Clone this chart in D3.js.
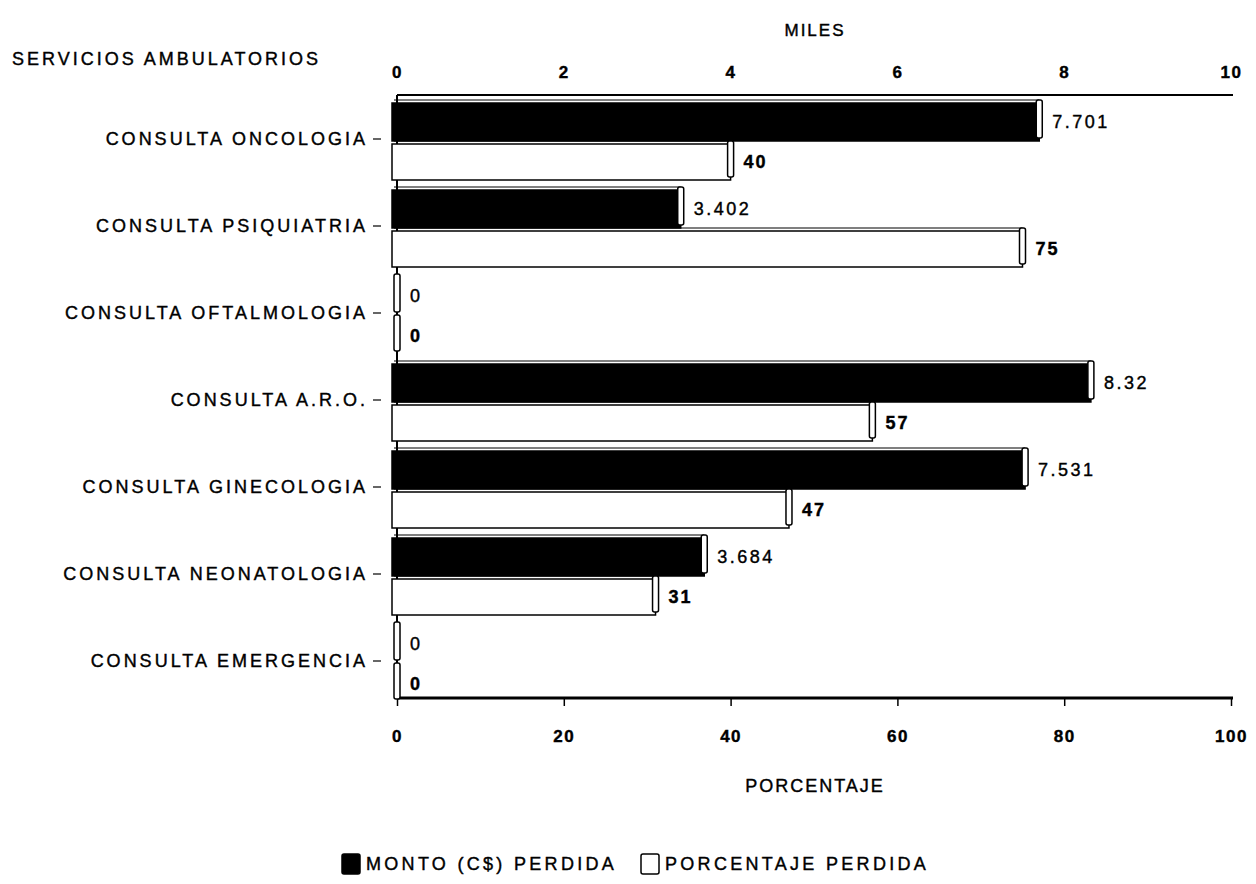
<!DOCTYPE html>
<html>
<head>
<meta charset="utf-8">
<script src="https://cdn.jsdelivr.net/npm/d3@7"></script>
<style>
  body { margin: 0; background: #fff; }
  svg text { font-family: "Liberation Sans", Arial, sans-serif; fill: #000; stroke: #000; stroke-width: 0.4px; }
</style>
</head>
<body>
<svg id="chart" width="1256" height="884"></svg>
<script>
// servicios ambulatorios
const categories = ["CONSULTA ONCOLOGIA", "CONSULTA PSIQUIATRIA", "CONSULTA OFTALMOLOGIA",
                    "CONSULTA A.R.O.", "CONSULTA GINECOLOGIA", "CONSULTA NEONATOLOGIA", "CONSULTA EMERGENCIA"];
const montoMiles = [7.701, 3.402, 0, 8.32, 7.531, 3.684, 0];
const montoLabels = ["7.701", "3.402", "0", "8.32", "7.531", "3.684", "0"];
const porcentaje = [40, 75, 0, 57, 47, 31, 0];
const milesTicks = [0, 2, 4, 6, 8, 10];
const pctTicks = [0, 20, 40, 60, 80, 100];

const svg = d3.select("#chart");
const plotLeft = 397, plotRight = 1231, plotTop = 95, plotBottom = 698;

var xMiles = d3.scaleLinear().domain([0, 10]).range([plotLeft, plotRight]);
var xPct = d3.scaleLinear().domain([0, 100]).range([plotLeft, plotRight]);
var y = d3.scaleBand().domain(categories).range([100, 709]).paddingInner(0).paddingOuter(0);

const barH1 = 38, barH2 = 36, depth = 6, lift = 3;

// top axis (miles)
svg.append("line").attr("x1", plotLeft).attr("x2", plotRight + 2).attr("y1", plotTop).attr("y2", plotTop)
   .attr("stroke", "#000").attr("stroke-width", 2);
var gTop = svg.append("g").attr("transform", "translate(0," + (plotTop - 17) + ")")
   .call(d3.axisTop(xMiles).tickValues(milesTicks).tickSize(0).tickPadding(0));
gTop.select(".domain").remove();
gTop.selectAll("text").attr("font-size", 17).attr("font-weight", "bold").attr("letter-spacing", 1.5);

// bottom axis (porcentaje)
svg.append("line").attr("x1", plotLeft).attr("x2", plotRight + 2).attr("y1", plotBottom).attr("y2", plotBottom)
   .attr("stroke", "#000").attr("stroke-width", 3);
var gBot = svg.append("g").attr("transform", "translate(0," + (plotBottom + 1) + ")")
   .call(d3.axisBottom(xPct).tickValues(pctTicks).tickSize(7).tickPadding(24));
gBot.select(".domain").remove();
gBot.selectAll("line").attr("stroke-width", 1.5);
gBot.selectAll("text").attr("font-size", 17).attr("font-weight", "bold").attr("letter-spacing", 1.5);

// left axis
svg.append("line").attr("x1", plotLeft).attr("x2", plotLeft).attr("y1", plotTop).attr("y2", plotBottom)
   .attr("stroke", "#000").attr("stroke-width", 2);

// category labels + ticks
categories.forEach(function(c, i) {
  var cy = y(c) + barH1 + 1;
  svg.append("text").attr("x", 368).attr("y", cy).attr("dy", "0.35em")
     .attr("text-anchor", "end").attr("font-size", 18).attr("letter-spacing", 3)
     .text(c);
  svg.append("line").attr("x1", 373).attr("x2", 381).attr("y1", cy).attr("y2", cy)
     .attr("stroke", "#000").attr("stroke-width", 1.2);
});

function bar3d(x0, x1, yTop, h, fill) {
  var g = svg.append("g");
  if (x1 > x0) {
    g.append("rect").attr("x", x0 - 5).attr("y", yTop).attr("width", x1 - x0 + 5).attr("height", h)
     .attr("fill", fill).attr("stroke", "#000").attr("stroke-width", 1.5);
    g.append("line").attr("x1", x0 - 3).attr("x2", x1).attr("y1", yTop - lift).attr("y2", yTop - lift)
     .attr("stroke", "#000").attr("stroke-width", 1.2);
  }
  g.append("rect").attr("x", x1 - depth / 2).attr("y", yTop - lift).attr("width", depth).attr("height", h)
   .attr("rx", 2).attr("fill", "#fff").attr("stroke", "#000").attr("stroke-width", 1.5);
}

categories.forEach(function(c, i) {
  var y0 = y(c) + 3;
  var xm = xMiles(montoMiles[i]);
  bar3d(plotLeft, xm, y0, barH1, "#000");
  svg.append("text").attr("x", xm + 13).attr("y", y0 + barH1 / 2).attr("dy", "0.35em")
     .attr("font-size", 18).attr("letter-spacing", 2.5).text(montoLabels[i]);

  var y1 = y0 + barH1 + 3;
  var xp = xPct(porcentaje[i]);
  bar3d(plotLeft, xp, y1, barH2, "#fff");
  svg.append("text").attr("x", xp + 13).attr("y", y1 + barH2 / 2).attr("dy", "0.35em")
     .attr("font-size", 18).attr("font-weight", "bold").attr("letter-spacing", 2).text(porcentaje[i]);
});

// titles
svg.append("text").attr("x", 815).attr("y", 30).attr("dy", "0.35em").attr("text-anchor", "middle")
   .attr("font-size", 17).attr("letter-spacing", 2).text("MILES");
svg.append("text").attr("x", 12).attr("y", 59).attr("dy", "0.35em")
   .attr("font-size", 18).attr("letter-spacing", 3).text("SERVICIOS AMBULATORIOS");
svg.append("text").attr("x", 815).attr("y", 786).attr("dy", "0.35em").attr("text-anchor", "middle")
   .attr("font-size", 18).attr("letter-spacing", 2).text("PORCENTAJE");

// legend
const legendItems = [
  {label: "MONTO (C$) PERDIDA", fill: "#000", x: 342},
  {label: "PORCENTAJE PERDIDA", fill: "#fff", x: 641}
];
legendItems.forEach(function(d) {
  svg.append("rect").attr("x", d.x).attr("y", 854).attr("width", 18).attr("height", 20)
     .attr("rx", 2).attr("fill", d.fill).attr("stroke", "#000").attr("stroke-width", 1.5);
  svg.append("text").attr("x", d.x + 24).attr("y", 864).attr("dy", "0.35em")
     .attr("font-size", 18).attr("letter-spacing", 3.3).text(d.label);
});
</script>
</body>
</html>
